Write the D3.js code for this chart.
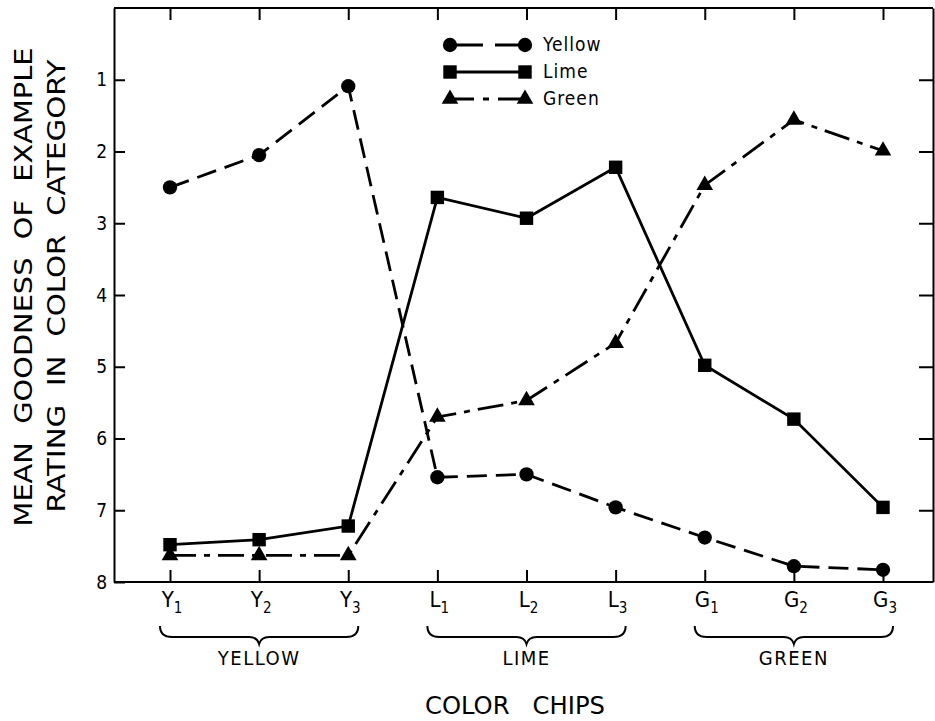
<!DOCTYPE html>
<html lang="en">
<head>
  <meta charset="UTF-8">
  <title>Mean goodness of example rating</title>
  <style>
    body { margin: 0; background: #fff; }
    text { font-family: "Liberation Sans Narrow", "DejaVu Sans Condensed", "Liberation Sans", Arial, sans-serif; fill: #000; }
  </style>
</head>
<body>
  <svg id="mainsvg" width="935" height="721"></svg>
  <script src="https://cdn.jsdelivr.net/npm/d3@7"></script>
  <script>
    // data
    const categories = ['Y1', 'Y2', 'Y3', 'L1', 'L2', 'L3', 'G1', 'G2', 'G3']
    const groups = ['YELLOW', 'LIME', 'GREEN']
    const yTicks = [1, 2, 3, 4, 5, 6, 7, 8]
    const yellowRatings = [2.50, 2.05, 1.09, 6.54, 6.50, 6.96, 7.38, 7.78, 7.83]
    const limeRatings = [7.48, 7.41, 7.22, 2.64, 2.93, 2.22, 4.98, 5.73, 6.96]
    const greenRatings = [7.63, 7.63, 7.63, 5.70, 5.47, 4.67, 2.47, 1.56, 1.99]
    const seriesNames = ['Yellow', 'Lime', 'Green']

    const svg = d3.select('#mainsvg')
    const frame = { left: 114, right: 933, top: 8, bottom: 582 }

    const xScale = d3.scalePoint().domain(categories).range([170, 883])
    const yScale = d3.scaleLinear().domain([0, 8]).range([frame.top, frame.bottom])

    const series = [
      { name: seriesNames[0], values: yellowRatings, dash: '20,9', symbol: d3.symbolCircle, size: 160 },
      { name: seriesNames[1], values: limeRatings, dash: null, symbol: d3.symbolSquare, size: 180 },
      { name: seriesNames[2], values: greenRatings, dash: '26,8,6,8', symbol: d3.symbolTriangle, size: 120 }
    ]

    // frame with inward ticks on all four sides
    const axisStyle = g => {
      g.select('.domain').attr('stroke-width', 2)
      g.selectAll('.tick line').attr('stroke-width', 2)
    }
    svg.append('g').attr('transform', `translate(${frame.left},0)`)
      .call(d3.axisLeft(yScale).tickValues(yTicks).tickSize(-11).tickSizeOuter(0).tickPadding(7))
      .call(axisStyle)
      .call(g => g.selectAll('.tick text').attr('font-size', 19).attr('font-family', '"Liberation Sans", Arial, sans-serif'))
    svg.append('g').attr('transform', `translate(${frame.right},0)`)
      .call(d3.axisRight(yScale).tickValues(yTicks.slice(0, -1)).tickSize(-14).tickSizeOuter(0).tickFormat(''))
      .call(axisStyle)
    const xBand = d3.scaleLinear().domain([0, 1]).range([frame.left, frame.right])
    svg.append('line').attr('x1', xBand(0)).attr('x2', xBand(1)).attr('y1', frame.bottom).attr('y2', frame.bottom)
      .attr('stroke', '#000').attr('stroke-width', 2)
    svg.append('line').attr('x1', xBand(0)).attr('x2', xBand(1)).attr('y1', frame.top).attr('y2', frame.top)
      .attr('stroke', '#000').attr('stroke-width', 2)
    svg.append('g').attr('transform', `translate(0,${frame.bottom})`)
      .call(d3.axisBottom(xScale).tickSize(-12).tickSizeOuter(0).tickFormat(''))
      .call(axisStyle).call(g => g.select('.domain').remove())
    svg.append('g').attr('transform', `translate(0,${frame.top})`)
      .call(d3.axisTop(xScale).tickSize(-12).tickSizeOuter(0).tickFormat(''))
      .call(axisStyle).call(g => g.select('.domain').remove())

    // category labels with subscripts
    const labels = svg.append('g').selectAll('text').data(categories).join('text')
      .attr('x', d => xScale(d) + 2).attr('y', 607)
      .attr('text-anchor', 'middle').attr('font-size', 22)
    labels.append('tspan').text(d => d[0])
    labels.append('tspan').attr('dy', 6).attr('font-size', 15).text(d => d.slice(1))

    // braces under each group
    groups.forEach((grp, i) => {
      const x0 = xScale(categories[i * 3]) - 10
      const x1 = xScale(categories[i * 3 + 2]) + 10
      const xm = (x0 + x1) / 2
      const y0 = 626, y1 = 637, y2 = 644
      svg.append('path')
        .attr('d', `M${x0},${y0} Q${x0},${y1} ${x0 + 12},${y1} L${xm - 10},${y1} Q${xm - 2},${y1} ${xm},${y2} ` +
          `Q${xm + 2},${y1} ${xm + 10},${y1} L${x1 - 12},${y1} Q${x1},${y1} ${x1},${y0}`)
        .attr('fill', 'none').attr('stroke', '#000').attr('stroke-width', 2)
      svg.append('text').text(grp)
        .attr('x', xm).attr('y', 665).attr('text-anchor', 'middle')
        .attr('font-size', 20).attr('letter-spacing', 1.5)
    })

    // series lines and markers
    const line = d3.line().x((d, i) => xScale(categories[i])).y(d => yScale(d))
    series.forEach(s => {
      svg.append('path').datum(s.values)
        .attr('d', line).attr('fill', 'none').attr('stroke', '#000').attr('stroke-width', 2.8)
        .attr('stroke-dasharray', s.dash)
      svg.append('g').selectAll('path').data(s.values).join('path')
        .attr('d', d3.symbol(s.symbol, s.size))
        .attr('transform', (d, i) => `translate(${xScale(categories[i])},${yScale(d)})`)
        .attr('fill', '#000')
    })

    // legend
    const legend = svg.append('g')
    series.forEach((s, i) => {
      const y = 45 + i * 27
      legend.append('line').attr('x1', 450).attr('x2', 525).attr('y1', y).attr('y2', y)
        .attr('stroke', '#000').attr('stroke-width', 2.8)
        .attr('stroke-dasharray', i === 0 ? '33,12,40' : i === 2 ? '24,9,6,9,40' : null)
      legend.selectAll(null).data([450, 525]).join('path')
        .attr('d', d3.symbol(s.symbol, s.size))
        .attr('transform', x => `translate(${x},${y})`)
        .attr('fill', '#000')
      legend.append('text').text(s.name)
        .attr('x', 543).attr('y', y + 6).attr('font-size', 19).attr('letter-spacing', 1)
    })

    // axis titles
    const yTitle = svg.append('g')
    yTitle.append('text').text('MEAN  GOODNESS  OF  EXAMPLE')
      .attr('transform', 'translate(32,287) rotate(-90)')
      .attr('text-anchor', 'middle').attr('font-size', 25)
      .attr('textLength', 479).attr('lengthAdjust', 'spacingAndGlyphs')
      .style('white-space', 'pre')
    yTitle.append('text').text('RATING  IN  COLOR  CATEGORY')
      .attr('transform', 'translate(65,286) rotate(-90)')
      .attr('text-anchor', 'middle').attr('font-size', 25)
      .attr('textLength', 453).attr('lengthAdjust', 'spacingAndGlyphs')
      .style('white-space', 'pre')
    svg.append('text').text('COLOR   CHIPS')
      .attr('x', 515).attr('y', 714).attr('text-anchor', 'middle').attr('font-size', 25)
      .attr('textLength', 180).attr('lengthAdjust', 'spacingAndGlyphs')
      .style('white-space', 'pre')
  </script>
</body>
</html>
